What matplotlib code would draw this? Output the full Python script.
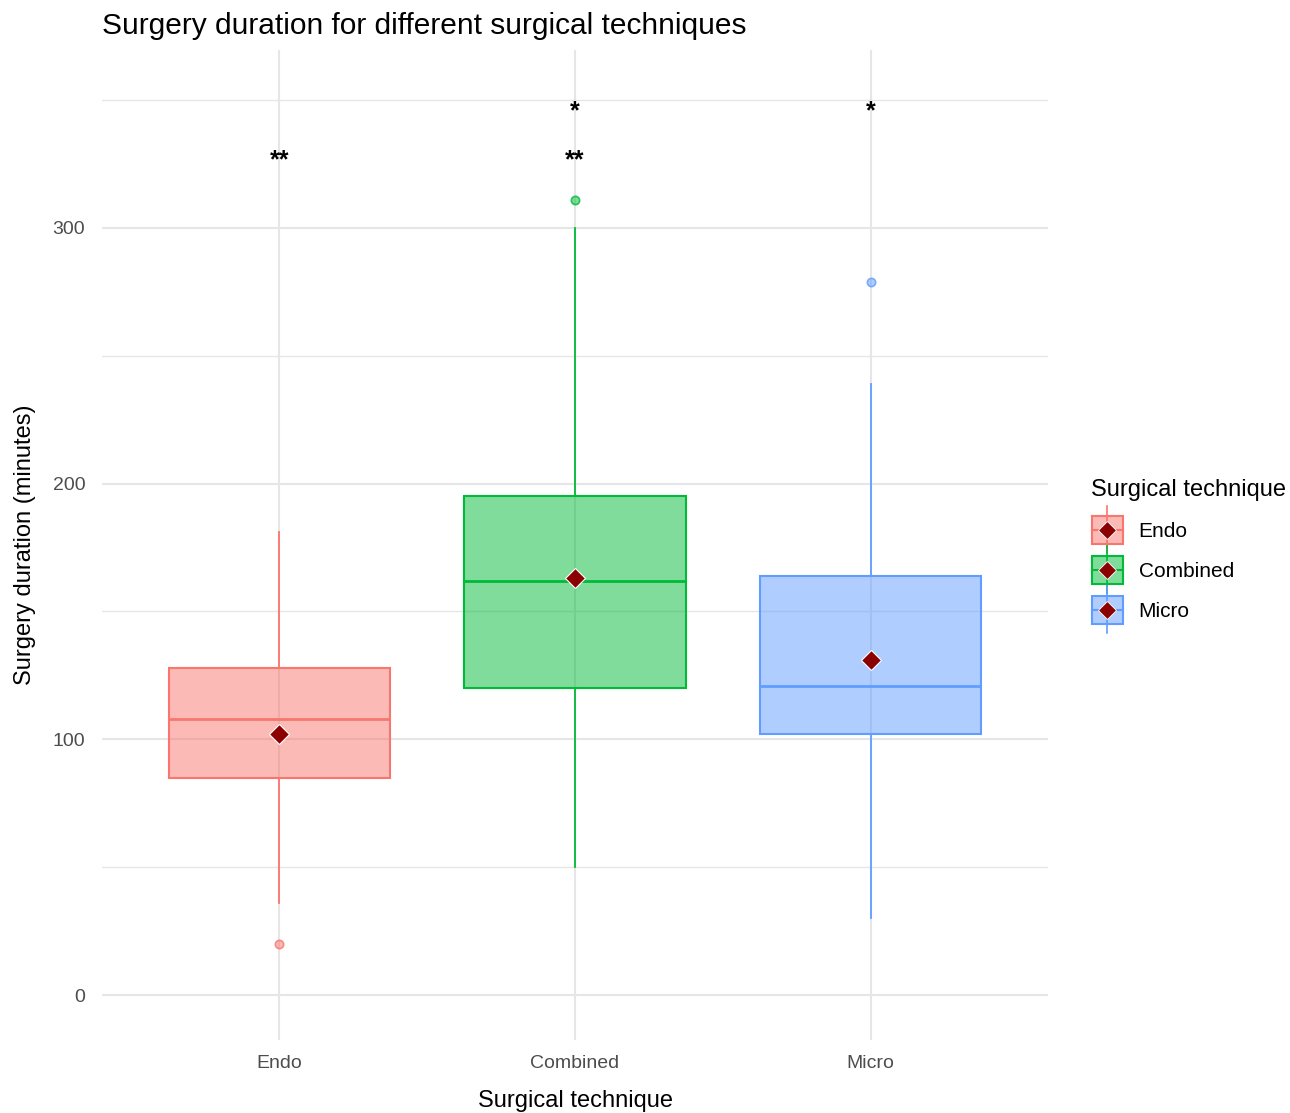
import matplotlib
matplotlib.use("Agg")
import matplotlib.pyplot as plt
from matplotlib.patches import Rectangle
from matplotlib.lines import Line2D
from matplotlib.legend_handler import HandlerBase

plt.rcParams['font.family'] = ['Liberation Sans', 'DejaVu Sans']

categories = ["Endo", "Combined", "Micro"]
whisker_low = [36, 50, 30]
q1 = [85, 120, 102]
median = [108, 162, 121]
q3 = [128, 195, 164]
whisker_high = [181, 300, 239]
means = [102, 163, 131]
outliers = [[20], [311], [279]]
star_labels = [["**"], ["**", "*"], ["*"]]
star_values = [[326.5], [326.5, 345.5], [345.5]]
colors = ["#F8766D", "#00BA38", "#619CFF"]

fig = plt.figure(figsize=(12.9, 11.13), dpi=100)
ax = fig.add_axes([102/1290, 1 - 1040/1113, (1048-102)/1290, (1040-50)/1113])

pos = [1, 2, 3]
for i, c in enumerate(categories):
    st = dict(med=median[i], q1=q1[i], q3=q3[i], whislo=whisker_low[i],
              whishi=whisker_high[i], fliers=outliers[i], label=c)
    col = colors[i]
    ax.bxp([st], positions=[pos[i]], widths=0.75, patch_artist=True,
           showcaps=False, showfliers=True,
           boxprops=dict(facecolor=matplotlib.colors.to_rgba(col, 0.5), edgecolor=col, linewidth=1.5),
           medianprops=dict(color=col, linewidth=2),
           whiskerprops=dict(color=col, linewidth=1.3),
           flierprops=dict(marker='o', markersize=6, markerfacecolor=matplotlib.colors.to_rgba(col, 0.5),
                           markeredgecolor=matplotlib.colors.to_rgba(col, 0.8), markeredgewidth=1.2),
           zorder=3)
    ax.plot(pos[i], means[i], marker='D', markersize=10, color='#8B0000',
            markeredgecolor='white', markeredgewidth=0.8, zorder=5, linestyle='none')
    for lab, v in zip(star_labels[i], star_values[i]):
        ax.text(pos[i], v, lab, ha='center', va='center', fontsize=18, fontweight='bold', zorder=6)

ax.set_xlim(0.4, 3.6)
ax.set_ylim(-17.6, 369.6)
ax.set_xticks(pos)
ax.set_xticklabels(categories)
ax.set_yticks([0, 100, 200, 300])
ax.set_yticks([50, 150, 250, 350], minor=True)
ax.grid(True, which='major', color='#E6E6E6', linewidth=1.5, zorder=0)
ax.grid(True, which='minor', axis='y', color='#E6E6E6', linewidth=1.0, zorder=0)
ax.set_axisbelow(True)
for s in ax.spines.values():
    s.set_visible(False)
ax.tick_params(which='both', length=0, labelsize=14, labelcolor='#4D4D4D', pad=12)
ax.tick_params(axis='x', pad=11)

ax.set_xlabel("Surgical technique", fontsize=17, labelpad=13)
ax.set_ylabel("Surgery duration (minutes)", fontsize=17, labelpad=12)
fig.text(102/1290, 1 - 26/1113, "Surgery duration for different surgical techniques",
         fontsize=21.5, ha='left', va='center')


class BoxHandler(HandlerBase):
    def __init__(self, color):
        super().__init__()
        self.color = color

    def create_artists(self, legend, orig_handle, xdescent, ydescent, width, height, fontsize, trans):
        col = self.color
        cx = width / 2 - xdescent
        cy = height / 2 - ydescent
        bw = width * 0.95
        bh = height * 1.3
        rect = Rectangle((cx - bw/2, cy - bh/2), bw, bh,
                         facecolor=matplotlib.colors.to_rgba(col, 0.5), edgecolor=col, linewidth=1.5,
                         transform=trans)
        vline = Line2D([cx, cx], [cy - bh*0.85, cy + bh*0.85], color=col, linewidth=1.2, transform=trans)
        hline = Line2D([cx - bw/2, cx + bw/2], [cy, cy], color=col, linewidth=1.5, transform=trans)
        dia = Line2D([cx], [cy], marker='D', markersize=9, color='#8B0000',
                     markeredgecolor='white', markeredgewidth=0.6, transform=trans)
        return [vline, rect, hline, dia]


handles = [Rectangle((0, 0), 1, 1) for _ in categories]
hmap = {h: BoxHandler(c) for h, c in zip(handles, colors)}
leg = fig.legend(handles, categories, handler_map=hmap, loc='upper left',
                 bbox_to_anchor=(1074/1290, 1 - 462/1113), frameon=False,
                 title="Surgical technique", title_fontsize=17, fontsize=15,
                 handlelength=1.6, handleheight=1.2, labelspacing=0.88, handletextpad=0.7,
                 borderpad=0.3)
leg._legend_box.align = "left"

fig.savefig("out.png", dpi=100, facecolor='white')
